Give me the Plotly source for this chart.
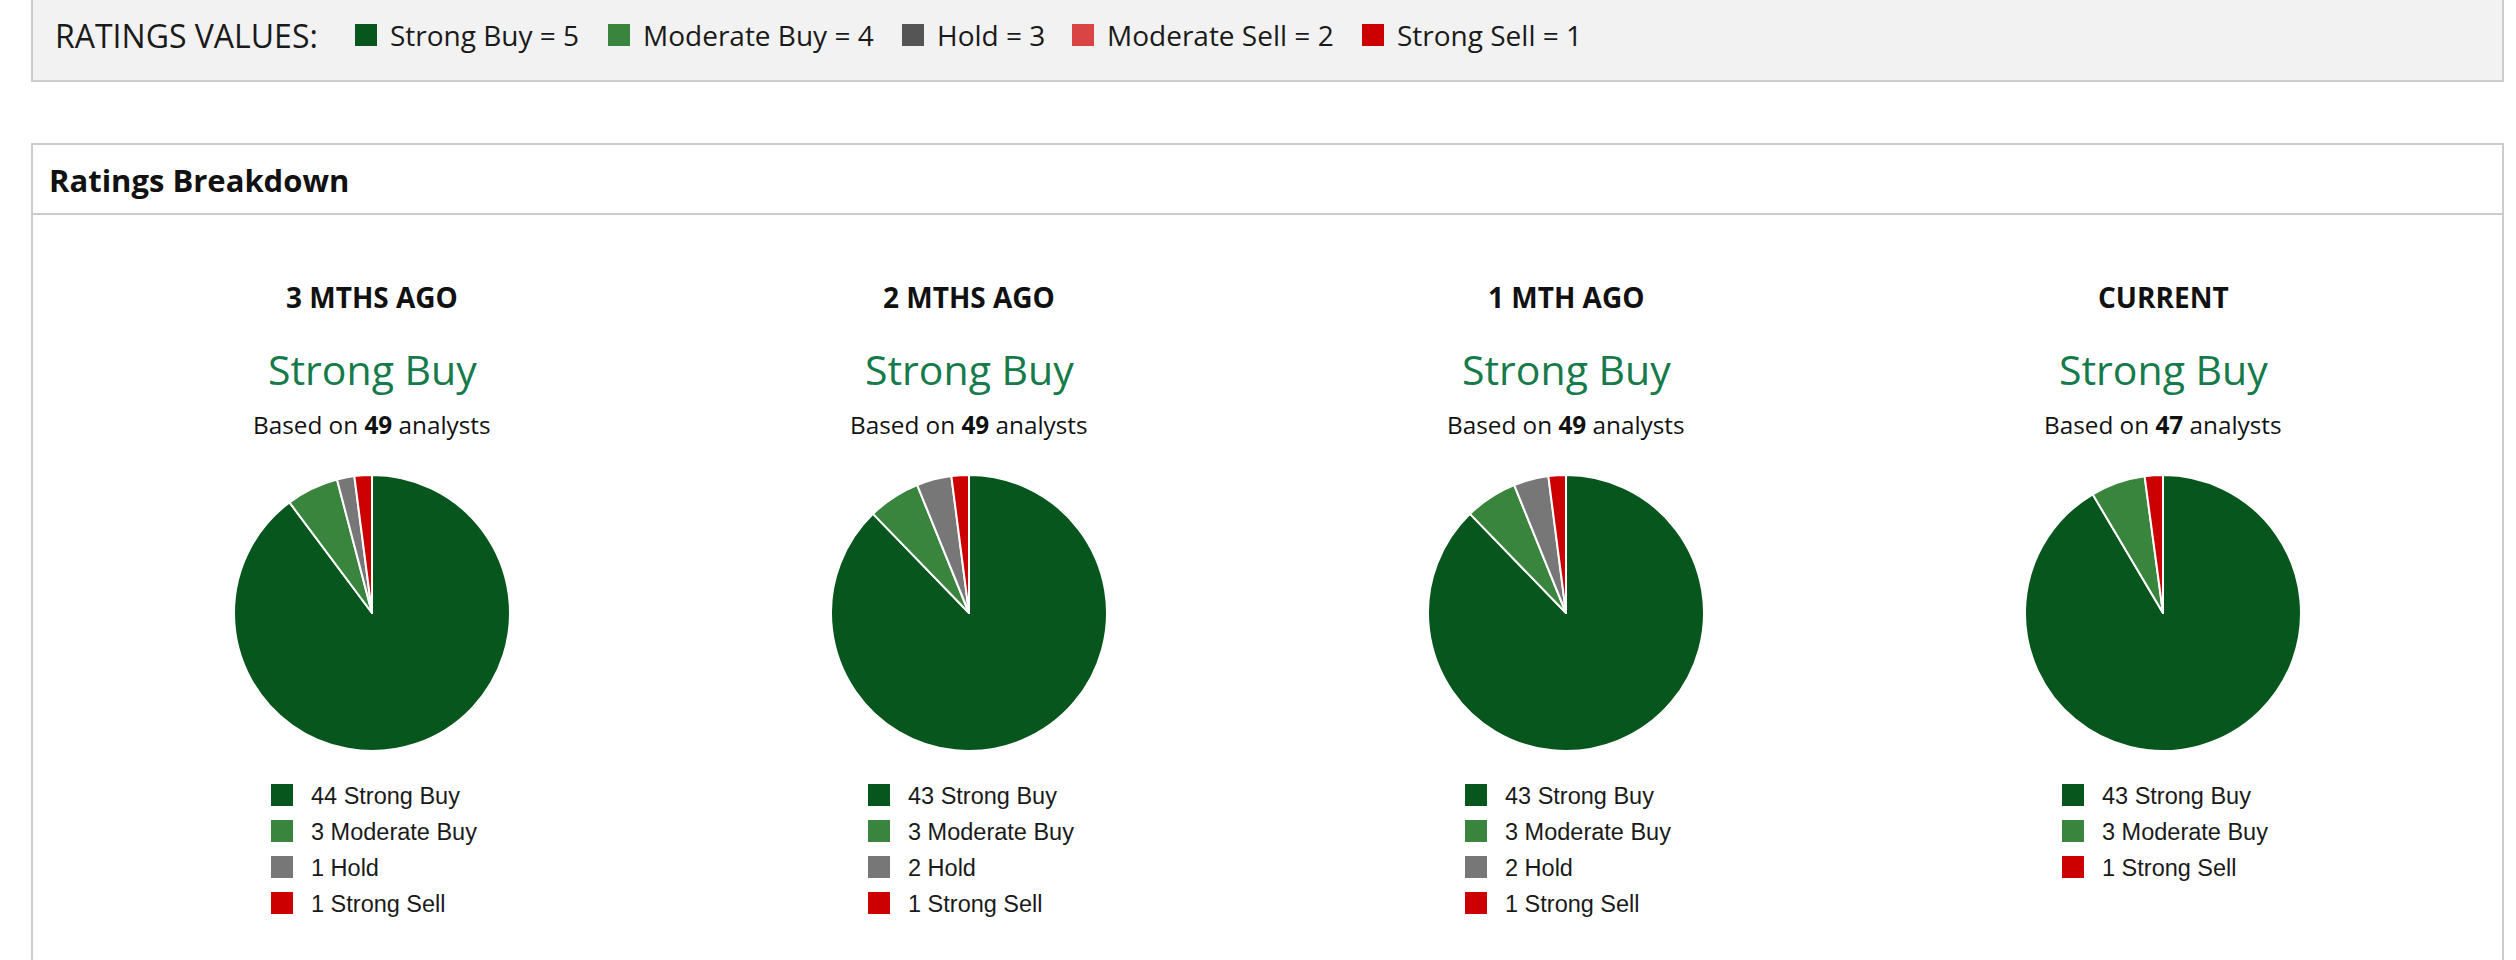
import plotly.graph_objects as go

# rating scale shown in the top strip
rating_names = ["Strong Buy", "Moderate Buy", "Hold", "Moderate Sell", "Strong Sell"]
rating_values = [5, 4, 3, 2, 1]

# analyst counts per period
periods = ["3 MTHS AGO", "2 MTHS AGO", "1 MTH AGO", "CURRENT"]
consensus = ["Strong Buy", "Strong Buy", "Strong Buy", "Strong Buy"]
strong_buy = [44, 43, 43, 43]
moderate_buy = [3, 3, 3, 3]
hold = [1, 2, 2, 0]
moderate_sell = [0, 0, 0, 0]
strong_sell = [1, 1, 1, 1]

W, H = 2516, 960
FONT = "Open Sans"
legend_colors = ["#07561d", "#3a853d", "#555555", "#d94444", "#cc0000"]
pie_colors = ["#07561d", "#3a853d", "#777777", "#d94444", "#cc0000"]


def px(x):
    return x / W


def py(y):
    return 1 - y / H


fig = go.Figure()
shapes = []
annotations = []

# top strip with rating values
shapes.append(dict(type="rect", xref="paper", yref="paper",
                   x0=px(32), x1=px(2503), y0=py(-10), y1=py(81),
                   fillcolor="#f2f2f2", line=dict(color="#cccccc", width=2), layer="below"))
annotations.append(dict(text="RATINGS VALUES:", x=px(53), y=py(35), xref="paper", yref="paper",
                        xanchor="left", yanchor="middle", showarrow=False,
                        font=dict(family=FONT, size=32, color="#1a1a1a")))
top_sq_x = [355, 608, 902, 1072, 1362]
for i, name in enumerate(rating_names):
    x0 = top_sq_x[i]
    shapes.append(dict(type="rect", xref="paper", yref="paper",
                       x0=px(x0), x1=px(x0 + 22), y0=py(46), y1=py(24),
                       fillcolor=legend_colors[i], line=dict(width=0)))
    annotations.append(dict(text=f"{name} = {rating_values[i]}", x=px(x0 + 33), y=py(35),
                            xref="paper", yref="paper", xanchor="left", yanchor="middle",
                            showarrow=False, font=dict(family=FONT, size=28, color="#1a1a1a")))

# breakdown panel
shapes.append(dict(type="rect", xref="paper", yref="paper",
                   x0=px(32), x1=px(2503), y0=py(144), y1=py(990),
                   fillcolor="white", line=dict(color="#cccccc", width=2), layer="below"))
shapes.append(dict(type="line", xref="paper", yref="paper",
                   x0=px(32), x1=px(2503), y0=py(214), y1=py(214),
                   line=dict(color="#cccccc", width=2)))
annotations.append(dict(text="<b>Ratings Breakdown</b>", x=px(47), y=py(180),
                        xref="paper", yref="paper", xanchor="left", yanchor="middle",
                        showarrow=False, font=dict(family=FONT, size=31, color="#111111")))

centers = [372, 969, 1566, 2163]
cy, r = 613, 138
for k, period in enumerate(periods):
    cx = centers[k]
    counts = [strong_buy[k], moderate_buy[k], hold[k], moderate_sell[k], strong_sell[k]]
    total = sum(counts)
    labels = [n for n, c in zip(rating_names, counts) if c > 0]
    vals = [c for c in counts if c > 0]
    cols = [col for col, c in zip(pie_colors, counts) if c > 0]

    fig.add_trace(go.Pie(
        labels=labels, values=vals, sort=False, direction="clockwise", rotation=0,
        textinfo="none", showlegend=False, hovertemplate="%{label}: %{value}<extra></extra>",
        marker=dict(colors=cols, line=dict(color="white", width=2)),
        domain=dict(x=[px(cx - r), px(cx + r)], y=[py(cy + r), py(cy - r)]),
    ))

    annotations.append(dict(text=f"<b>{period}</b>", x=px(cx), y=py(297), xref="paper", yref="paper",
                            xanchor="center", yanchor="middle", showarrow=False,
                            font=dict(family=FONT, size=28, color="#111111")))
    annotations.append(dict(text=consensus[k], x=px(cx), y=py(369), xref="paper", yref="paper",
                            xanchor="center", yanchor="middle", showarrow=False,
                            font=dict(family=FONT, size=41, color="#167a4a")))
    annotations.append(dict(text=f"Based on <b>{total}</b> analysts", x=px(cx), y=py(425),
                            xref="paper", yref="paper", xanchor="center", yanchor="middle",
                            showarrow=False, font=dict(family=FONT, size=24.3, color="#111111")))

    # legend list under the pie
    for j, (lab, v, col) in enumerate(zip(labels, vals, cols)):
        ly = 795 + 36 * j
        shapes.append(dict(type="rect", xref="paper", yref="paper",
                           x0=px(cx - 101), x1=px(cx - 79), y0=py(ly + 11), y1=py(ly - 11),
                           fillcolor=col, line=dict(width=0)))
        annotations.append(dict(text=f"{v} {lab}", x=px(cx - 63), y=py(ly + 1), xref="paper", yref="paper",
                                xanchor="left", yanchor="middle", showarrow=False,
                                font=dict(family="Liberation Sans", size=23.5, color="#1a1a1a")))

fig.update_layout(
    width=W, height=H, autosize=False,
    margin=dict(l=0, r=0, t=0, b=0),
    paper_bgcolor="white", plot_bgcolor="white",
    shapes=shapes, annotations=annotations,
)

fig.write_html("out.html", config={"displayModeBar": False},
               post_script="document.body.style.margin='0';document.body.style.overflow='hidden';")
